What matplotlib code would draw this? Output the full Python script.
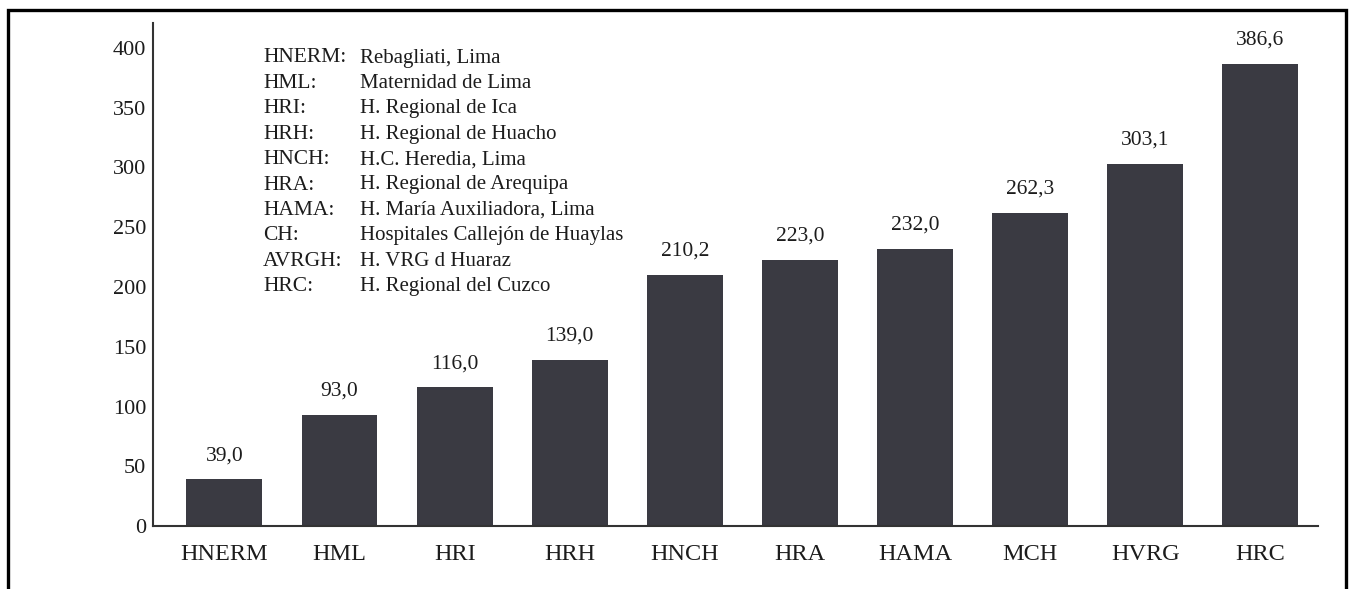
import matplotlib.pyplot as plt
from matplotlib.patches import Rectangle

# Hospitals and their values
hospitals = ["HNERM", "HML", "HRI", "HRH", "HNCH", "HRA", "HAMA", "MCH", "HVRG", "HRC"]
values = [39.0, 93.0, 116.0, 139.0, 210.2, 223.0, 232.0, 262.3, 303.1, 386.6]
value_labels = ["39,0", "93,0", "116,0", "139,0", "210,2", "223,0", "232,0", "262,3", "303,1", "386,6"]
y_ticks = [0, 50, 100, 150, 200, 250, 300, 350, 400]

# Abbreviation key
key_codes = ["HNERM:", "HML:", "HRI:", "HRH:", "HNCH:", "HRA:", "HAMA:", "CH:", "AVRGH:", "HRC:"]
key_names = ["Rebagliati, Lima", "Maternidad de Lima", "H. Regional de Ica",
             "H. Regional de Huacho", "H.C. Heredia, Lima", "H. Regional de Arequipa",
             "H. María Auxiliadora, Lima", "Hospitales Callejón de Huaylas",
             "H. VRG d Huaraz", "H. Regional del Cuzco"]

W, H = 1353, 589
fig = plt.figure(figsize=(W / 100, H / 100), dpi=100)
fig.patch.set_facecolor("white")

serif = ["Liberation Serif", "DejaVu Serif"]
text_color = "#1c1c1c"
bar_color = "#3a3a42"

# Frame around the figure (open at the bottom edge)
frame = Rectangle((8 / W, -0.05), (1346 - 8) / W, 1.05 - 10 / H,
                  transform=fig.transFigure, fill=False,
                  edgecolor="black", linewidth=2.4, zorder=0)
fig.patches.append(frame)

ax_left, ax_right = 153 / W, 1318 / W
ax_bottom, ax_top = 1 - 526 / H, 1 - 23 / H
ax = fig.add_axes([ax_left, ax_bottom, ax_right - ax_left, ax_top - ax_bottom])

x = list(range(len(hospitals)))
ax.bar(x, values, width=0.66, color=bar_color, edgecolor="none", zorder=2)

for xi, v, lab in zip(x, values, value_labels):
    ax.annotate(lab, (xi, v), xytext=(0, 17), textcoords="offset points",
                ha="center", va="center", fontsize=15.5, family=serif,
                color=text_color)

ax.set_xlim(-0.62, 9.5)
ax.set_ylim(0, (526 - 23) / 1.195)
ax.set_yticks(y_ticks)
ax.set_yticklabels([str(t) for t in y_ticks])
ax.set_xticks(x)
ax.set_xticklabels(hospitals)

ax.tick_params(axis="y", length=0, pad=5, labelsize=16, labelcolor=text_color)
ax.tick_params(axis="x", length=0, pad=13, labelsize=17.5, labelcolor=text_color)
for lab in ax.get_xticklabels() + ax.get_yticklabels():
    lab.set_family(serif)

for side in ["top", "right"]:
    ax.spines[side].set_visible(False)
for side in ["left", "bottom"]:
    ax.spines[side].set_color("#333333")
    ax.spines[side].set_linewidth(1.5)

# Abbreviation key in the upper left
y0 = 58
for i, (c, n) in enumerate(zip(key_codes, key_names)):
    yy = 1 - (y0 + i * 25.4) / H
    fig.text(263 / W, yy, c, ha="left", va="center", fontsize=15.5,
             family=serif, color=text_color)
    fig.text(360 / W, yy, n, ha="left", va="center", fontsize=15,
             family=serif, color=text_color)

fig.savefig("out.png", dpi=100)
